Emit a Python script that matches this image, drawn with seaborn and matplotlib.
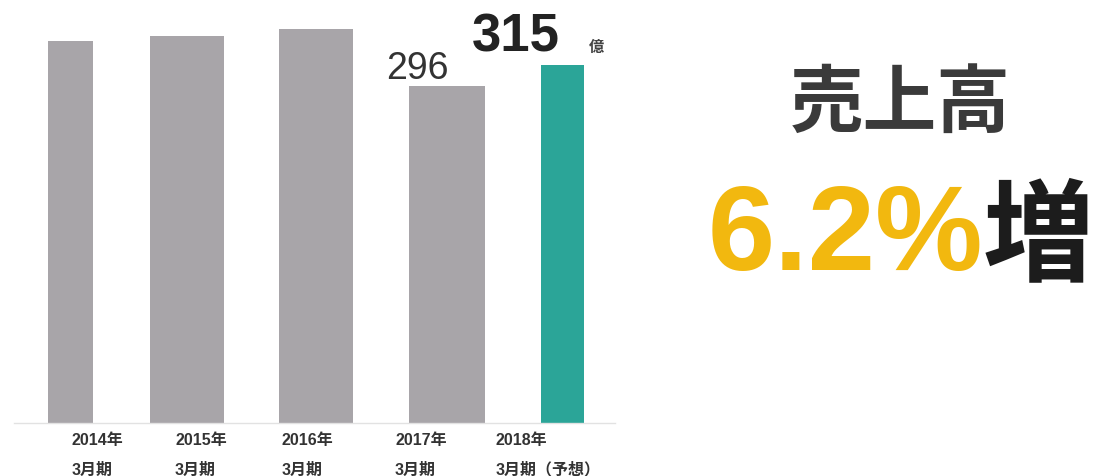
import matplotlib
matplotlib.use("Agg")
import matplotlib.pyplot as plt
import seaborn as sns
import pandas as pd

# Net sales (100 million yen) by fiscal year ending March
periods = ["2014年\n3月期", "2015年\n3月期", "2016年\n3月期", "2017年\n3月期", "2018年\n3月期（予想）"]
sales = [336, 340, 346, 296, 315]
forecast = [False, False, False, False, True]
unit = "億"
headline = "売上高"
growth = "6.2%"
growth_word = "増"

GRAY = "#A8A5A9"
TEAL = "#2BA598"

sns.set_style("white")
plt.rcParams["font.family"] = ["Liberation Sans", "Noto Sans CJK JP", "DejaVu Sans"]

W, H = 1101, 477
fig = plt.figure(figsize=(W / 100, H / 100), dpi=100)
fig.patch.set_facecolor("white")

# axes box in pixel terms: left 14, right 615, top 10, baseline 424
ax = fig.add_axes([14 / W, 1 - 424 / H, (615 - 14) / W, (424 - 10) / H])

df = pd.DataFrame({"period": periods, "sales": sales})
palette = {p: (TEAL if f else GRAY) for p, f in zip(periods, forecast)}
sns.barplot(data=df, x="period", y="sales", hue="period", palette=palette,
            legend=False, width=0.6, saturation=1, ax=ax)

# individual bar widths and small horizontal nudges, in pixels
px_per_unit = 123.0
bar_px = [45, 74, 74, 76, 43]
nudge_px = [0, -6.5, 0, 7.5, 0]
for patch, wpx, dpx in zip(ax.patches, bar_px, nudge_px):
    cx = patch.get_x() + patch.get_width() / 2 + dpx / px_per_unit
    w = wpx / px_per_unit
    patch.set_width(w)
    patch.set_x(cx - w / 2)
    patch.set_edgecolor("none")

ax.set_xlim((14 - 70.5) / px_per_unit, (615 - 70.5) / px_per_unit)
ax.set_ylim(0, 364)
ax.set_xticks([])
ax.set_yticks([])
ax.set_xlabel("")
ax.set_ylabel("")
for s in ["left", "right", "top"]:
    ax.spines[s].set_visible(False)
ax.spines["bottom"].set_color("#E2E2E2")
ax.spines["bottom"].set_linewidth(1.0)

# value labels for the last two years
ax.annotate(f"{sales[3]}", xy=(3, sales[3]), xytext=(-22, 8), textcoords="offset pixels",
            ha="center", va="baseline", fontsize=27, color="#333333",
            family=["Liberation Sans"])
ax.annotate(f"{sales[4]}", xy=(4, sales[4]), xytext=(-47, 14), textcoords="offset pixels",
            ha="center", va="baseline", fontsize=38, fontweight="bold", color="#222222",
            family=["Liberation Sans"])
ax.annotate(unit, xy=(4, sales[4]), xytext=(26, 14), textcoords="offset pixels",
            ha="left", va="baseline", fontsize=11, fontweight="bold", color="#444444",
            family=["Noto Sans CJK JP"])

# category labels beneath the baseline
label_left = [72, 175, 282, 395, 496]
for x, p in zip(label_left, periods):
    year, term = p.split("\n")
    fig.text(x / W, 1 - 441 / H, year, ha="left", va="center", fontsize=11.5,
             fontweight="bold", color="#333333",
             family=["Liberation Sans", "Noto Sans CJK JP"])
    fig.text(x / W, 1 - 470 / H, term, ha="left", va="center", fontsize=11.5,
             fontweight="bold", color="#333333",
             family=["Liberation Sans", "Noto Sans CJK JP"])

# headline on the right
fig.text(900 / W, 1 - 105 / H, headline, ha="center", va="center", fontsize=53,
         fontweight="bold", color="#3A3A3A", family=["Noto Sans CJK JP"])
fig.text(708 / W, 1 - 270 / H, growth, ha="left", va="baseline", fontsize=87,
         fontweight="bold", color="#F2B80F", family=["Liberation Sans"])
fig.text(983 / W, 1 - 272 / H, growth_word, ha="left", va="baseline", fontsize=80,
         fontweight="bold", color="#1C1C1C", family=["Noto Sans CJK JP"])

fig.savefig("out.png", dpi=100, facecolor="white")
